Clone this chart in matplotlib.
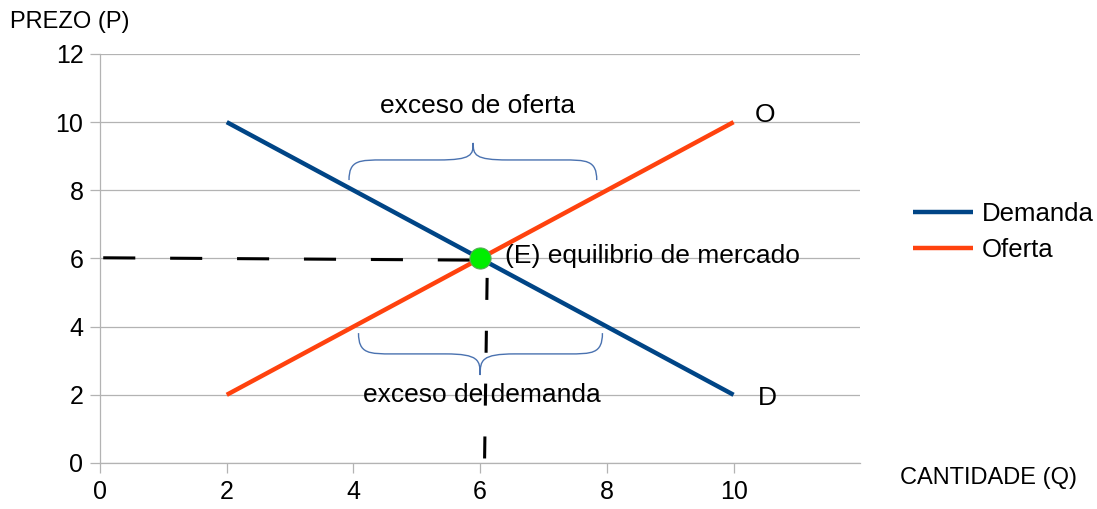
import matplotlib
matplotlib.use('Agg')
import matplotlib.pyplot as plt
from matplotlib.path import Path
from matplotlib.patches import PathPatch

plt.rcParams['font.family'] = ['Liberation Sans', 'DejaVu Sans']

# data
cantidade = [2, 10]
demanda = [10, 2]
oferta = [2, 10]
equilibrio = (6, 6)
x_ticks = [0, 2, 4, 6, 8, 10]
y_ticks = [0, 2, 4, 6, 8, 10, 12]

col_dem = '#004586'
col_of = '#ff420e'
col_brace = '#4a72b0'

fig = plt.figure(figsize=(10.97, 5.09), dpi=100)
ax = fig.add_axes([0.0912, 0.0904, 0.693, 0.8036])

for y in y_ticks:
    ax.axhline(y, color='#b3b3b3', lw=0.9, zorder=0)

ax.plot(cantidade, demanda, color=col_dem, lw=3.2, label='Demanda', zorder=3, solid_capstyle='butt')
ax.plot(cantidade, oferta, color=col_of, lw=3.2, label='Oferta', zorder=3, solid_capstyle='butt')

# dashed guides to equilibrium
ax.plot([0.05, 6], [6.02, 5.95], color='black', lw=2.2, dashes=(10.5, 11.4), zorder=2)
ax.plot([6.11, 6.07], [5.43, 0.12], color='black', lw=2.2, dashes=(7.2, 10.1), zorder=2)

ax.scatter([equilibrio[0]], [equilibrio[1]], s=230, color='#00ee00', edgecolor='#55aa55',
           linewidth=0.8, zorder=5)


def brace(x0, x1, xm, yb, ym, yt):
    # curly brace made of cubic bezier pieces
    r = 0.55
    verts = [(x0, yb), (x0, ym), (x0 + r * 0.3, ym), (x0 + r, ym),
             (xm - r, ym), (xm - 0.02, ym), (xm, ym + (yt - ym) * 0.3), (xm, yt),
             (xm, ym + (yt - ym) * 0.3), (xm + 0.02, ym), (xm + r, ym),
             (x1 - r, ym), (x1 - r * 0.3, ym), (x1, ym), (x1, yb)]
    codes = [Path.MOVETO, Path.CURVE4, Path.CURVE4, Path.CURVE4,
             Path.LINETO, Path.CURVE4, Path.CURVE4, Path.CURVE4,
             Path.CURVE4, Path.CURVE4, Path.CURVE4,
             Path.LINETO, Path.CURVE4, Path.CURVE4, Path.CURVE4]
    ax.add_patch(PathPatch(Path(verts, codes), fill=False, edgecolor=col_brace, lw=1.0, zorder=4))


brace(3.93, 7.84, 5.89, 8.30, 8.89, 9.39)
brace(4.08, 7.93, 6.0, 3.81, 3.20, 2.58)

ax.text(5.96, 10.47, 'exceso de oferta', fontsize=19, ha='center', va='center')
ax.text(6.03, 2.0, 'exceso de demanda', fontsize=19, ha='center', va='center')
ax.text(6.4, 6.07, '(E) equilibrio de mercado', fontsize=19, ha='left', va='center')
ax.text(10.5, 10.2, 'O', fontsize=19, ha='center', va='center')
ax.text(10.53, 1.9, 'D', fontsize=19, ha='center', va='center')

ax.set_xlim(0, 12)
ax.set_ylim(0, 12)
ax.set_xticks(x_ticks)
ax.set_yticks(y_ticks)
ax.tick_params(labelsize=18, color='#b3b3b3', length=7, width=0.9, pad=5)
for s in ['top', 'right']:
    ax.spines[s].set_visible(False)
for s in ['left', 'bottom']:
    ax.spines[s].set_color('#b3b3b3')
    ax.spines[s].set_linewidth(0.9)

fig.text(0.009, 0.957, 'PREZO (P)', fontsize=17, ha='left', va='center')
fig.text(0.820, 0.061, 'CANTIDADE (Q)', fontsize=17, ha='left', va='center')

fig.legend(loc='center left', bbox_to_anchor=(0.811, 0.544), frameon=False, fontsize=18.5,
           handlelength=2.34, handletextpad=0.35, labelspacing=0.45)

fig.savefig('out.png', dpi=100)
